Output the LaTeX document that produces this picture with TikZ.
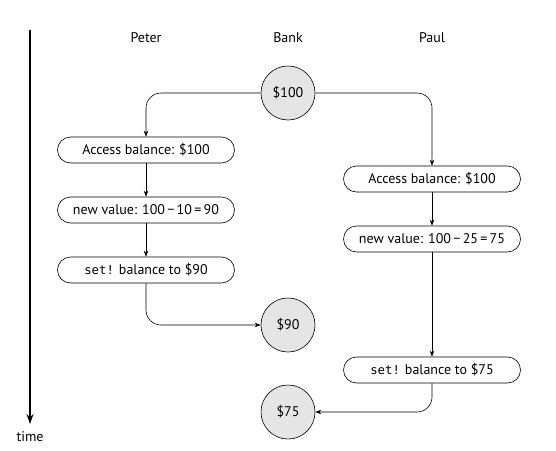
\documentclass[tikz,border=0pt]{standalone}
\usepackage{fontspec}
\setmainfont{PT Sans}
\setmonofont{DejaVu Sans Mono}[Scale=0.88]
\usetikzlibrary{arrows.meta}
\begin{document}
\begin{tikzpicture}[x=1pt,y=-1pt,
  every node/.style={font=\fontsize{14}{16}\selectfont},
  line width=0.6pt,
  proc/.style={draw, rounded corners=13pt, minimum width=177pt, minimum height=26pt, inner sep=0pt},
  acct/.style={draw, circle, fill=black!10, minimum size=54pt, inner sep=0pt},
  flow/.style={-{Stealth[length=6pt,width=4.5pt]}, rounded corners=15pt}]
\useasboundingbox (0,0) rectangle (556,450);
\coordinate (t0) at (30,30);
\coordinate (t1) at (30,424);
\draw[line width=1.1pt, -{Stealth[length=10pt,width=7pt]}] (t0) -- (t1);
\node (time) at (30,437) {time};
\node (peter) at (146,38) {Peter};
\node (bankh) at (288,38) {Bank};
\node (paul) at (432,38) {Paul};
\node[acct] (b100) at (288,93) {\$100};
\node[proc] (pa) at (146,150) {Access balance: \$100};
\node[proc] (pn) at (146,210) {new value: 100\,−\,10\,=\,90};
\node[proc] (ps) at (146,270) {\texttt{set!} balance to \$90};
\node[acct] (b90) at (288,325) {\$90};
\node[proc] (qa) at (432,179) {Access balance: \$100};
\node[proc] (qn) at (432,239) {new value: 100\,−\,25\,=\,75};
\node[proc] (qs) at (432,370) {\texttt{set!} balance to \$75};
\node[acct] (b75) at (288,412) {\$75};
\draw[flow] (b100.west) -| (pa.north);
\draw[flow] (b100.east) -| (qa.north);
\draw[flow] (pa) -- (pn);
\draw[flow] (pn) -- (ps);
\draw[flow] (ps.south) |- (b90.west);
\draw[flow] (qa) -- (qn);
\draw[flow] (qn) -- (qs);
\draw[flow] (qs.south) |- (b75.east);
\end{tikzpicture}
\end{document}
